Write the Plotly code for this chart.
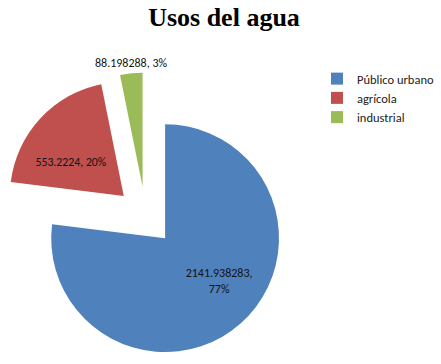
import math
import plotly.graph_objects as go

labels = ["Público urbano", "agrícola", "industrial"]
values = [2141.938283, 553.2224, 88.198288]
value_fmt = [".6f", ".4f", ".6f"]
colors = ["#4F81BD", "#C0504D", "#9BBB59"]

W, H = 441, 364
PULL = 0.26
DOM_X = [2 / W, 289 / W]
DOM_Y = [4 / H, 292 / H]
NB = "&nbsp;"

templates = [
    NB * 12 + "%{value:.6f}," + "<br>" + NB * 12 + "%{percent:.0%}",
    NB + "<br>" + NB + "<br>" + "%{value:.4f}, %{percent:.0%}",
    "",
]
positions = ["inside", "inside", "none"]

fig = go.Figure(go.Pie(
    labels=labels,
    values=values,
    sort=False,
    direction="clockwise",
    rotation=0,
    pull=[PULL] * len(values),
    marker=dict(colors=colors, line=dict(width=0)),
    texttemplate=templates,
    textposition=positions,
    insidetextorientation="horizontal",
    textfont=dict(family="Calibri, Carlito, Liberation Sans", size=12, color="#111111"),
    domain=dict(x=DOM_X, y=DOM_Y),
    hoverinfo="label+value+percent",
))

# outside label for the small last slice, centred above it (derived from the data)
total = sum(values)
start = sum(values[:-1]) / total
mid = 2 * math.pi * (start + values[-1] / total / 2)
box_w = W * (DOM_X[1] - DOM_X[0])
box_h = H * (DOM_Y[1] - DOM_Y[0])
r = min(box_w, box_h) / (2 + 2 * PULL)
cx = W * (DOM_X[0] + DOM_X[1]) / 2
cy = H * (1 - DOM_Y[0]) - box_h / 2
rad = r * (1 + PULL)
lx = cx + rad * math.sin(mid)
ly = cy - rad * math.cos(mid)
pct = round(100 * values[-1] / total)
fig.add_annotation(
    x=lx / W, y=1 - (ly - 1) / H, xref="paper", yref="paper",
    xanchor="center", yanchor="bottom", showarrow=False,
    text=f"{values[-1]:{value_fmt[-1]}}".rstrip("0") + f", {pct}%",
    font=dict(family="Calibri, Carlito, Liberation Sans", size=12, color="#111111"),
)

fig.update_layout(
    width=W, height=H,
    margin=dict(l=0, r=0, t=0, b=0, autoexpand=False),
    paper_bgcolor="white",
    plot_bgcolor="white",
    title=dict(text="<b>Usos del agua</b>", x=224 / W, xanchor="center",
               y=1 - 17 / H, yanchor="middle",
               font=dict(family="Book Antiqua, Palatino Linotype, Liberation Serif", size=26, color="black")),
    legend=dict(x=317 / W, xanchor="left", y=1 - 64 / H, yanchor="top",
                itemwidth=30,
                font=dict(family="Calibri, Carlito, Liberation Sans", size=12.5, color="#222222"),
                bgcolor="rgba(0,0,0,0)"),
    showlegend=True,
)

fig.write_html("out.html", config={"displayModeBar": False},
               post_script="document.body.style.margin='0px';")
